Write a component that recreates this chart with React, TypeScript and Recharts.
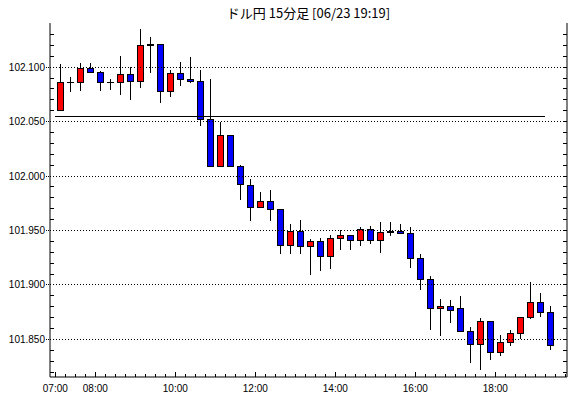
import React from 'react';
import { ComposedChart, Bar, XAxis, YAxis, ReferenceLine } from 'recharts';

const TITLE = 'ドル円 15分足 [06/23 19:19]';

const TIMES = [
  '07:00', '07:15', '07:30', '07:45', '08:00', '08:15', '08:30', '08:45',
  '09:00', '09:15', '09:30', '09:45', '10:00', '10:15', '10:30', '10:45',
  '11:00', '11:15', '11:30', '11:45', '12:00', '12:15', '12:30', '12:45',
  '13:00', '13:15', '13:30', '13:45', '14:00', '14:15', '14:30', '14:45',
  '15:00', '15:15', '15:30', '15:45', '16:00', '16:15', '16:30', '16:45',
  '17:00', '17:15', '17:30', '17:45', '18:00', '18:15', '18:30', '18:45',
  '19:00', '19:15',
];

const OPEN = [
  102.060, 102.086, 102.086, 102.099, 102.095, 102.086, 102.086, 102.093,
  102.087, 102.121, 102.121, 102.078, 102.094, 102.089, 102.087, 102.052,
  102.009, 102.037, 102.009, 101.991, 101.971, 101.977, 101.969, 101.936,
  101.949, 101.935, 101.940, 101.926, 101.943, 101.945, 101.941, 101.951,
  101.941, 101.949, 101.949, 101.947, 101.924, 101.905, 101.878, 101.880,
  101.878, 101.857, 101.845, 101.866, 101.838, 101.847, 101.855, 101.870,
  101.884, 101.875,
];

const HIGH = [
  102.103, 102.091, 102.104, 102.104, 102.096, 102.089, 102.110, 102.100,
  102.135, 102.128, 102.121, 102.097, 102.105, 102.109, 102.097, 102.089,
  102.050, 102.038, 102.010, 101.997, 101.985, 101.987, 101.970, 101.956,
  101.960, 101.942, 101.943, 101.946, 101.950, 101.945, 101.953, 101.954,
  101.958, 101.958, 101.956, 101.953, 101.928, 101.908, 101.887, 101.886,
  101.890, 101.861, 101.870, 101.866, 101.854, 101.859, 101.870, 101.903,
  101.893, 101.881,
];

const LOW = [
  102.060, 102.077, 102.078, 102.095, 102.078, 102.079, 102.074, 102.070,
  102.081, 102.095, 102.067, 102.073, 102.083, 102.085, 102.046, 102.008,
  102.008, 102.009, 101.978, 101.959, 101.971, 101.959, 101.928, 101.928,
  101.928, 101.909, 101.913, 101.915, 101.932, 101.932, 101.936, 101.938,
  101.929, 101.945, 101.947, 101.916, 101.895, 101.859, 101.853, 101.865,
  101.857, 101.828, 101.822, 101.831, 101.835, 101.844, 101.850, 101.869,
  101.871, 101.840,
];

const CLOSE = [
  102.086, 102.086, 102.099, 102.095, 102.086, 102.086, 102.093, 102.087,
  102.120, 102.120, 102.078, 102.094, 102.089, 102.087, 102.052, 102.009,
  102.037, 102.009, 101.992, 101.971, 101.977, 101.969, 101.936, 101.949,
  101.935, 101.940, 101.926, 101.943, 101.945, 101.941, 101.951, 101.941,
  101.948, 101.948, 101.947, 101.924, 101.905, 101.878, 101.880, 101.877,
  101.857, 101.845, 101.866, 101.838, 101.847, 101.855, 101.870, 101.884,
  101.875, 101.844,
];

const PRICE_LABELS = [101.85, 101.9, 101.95, 102.0, 102.05, 102.1];
const PRICE_MINOR = [
  101.82, 101.83, 101.84, 101.86, 101.87, 101.88, 101.89, 101.91, 101.92,
  101.93, 101.94, 101.96, 101.97, 101.98, 101.99, 102.01, 102.02, 102.03,
  102.04, 102.06, 102.07, 102.08, 102.09, 102.11, 102.12, 102.13,
];
const TIME_LABELS = ['07:00', '08:00', '10:00', '12:00', '14:00', '16:00', '18:00'];
const LONG_TICK_TIMES = ['08:00', '10:00', '12:00', '14:00', '16:00', '18:00'];
const CURRENT_PRICE = 102.055;
const LINE_START = '07:00';
const LINE_END = '19:15';
const Y_DOMAIN = [101.8155, 102.1405];
const X_DOMAIN = [-8, 767.5];

const toMinutes = (s: string) => {
  const [h, m] = s.split(':').map(Number);
  return (h - 7) * 60 + m;
};

const data = TIMES.map((t, i) => ({
  time: t,
  t: toMinutes(t) + 7.5,
  open: OPEN[i],
  high: HIGH[i],
  low: LOW[i],
  close: CLOSE[i],
}));

const TICK_MINUTES: number[] = [];
for (let m = 0; m <= X_DOMAIN[1]; m += 15) TICK_MINUTES.push(m);
const LABEL_MIN = TIME_LABELS.map(toMinutes);
const LONG_MIN = LONG_TICK_TIMES.map(toMinutes);
const fmt = (m: number) => {
  const h = 7 + Math.floor(m / 60);
  const mm = m % 60;
  return `${String(h).padStart(2, '0')}:${String(mm).padStart(2, '0')}`;
};

const FONT = '"Liberation Sans", Arial, sans-serif';

const Candle = (props: any) => {
  const { x, y, width, height, payload } = props;
  if (x == null || y == null || !payload) return null;
  const { open, close, high, low } = payload;
  const ratio = height / (high - low);
  const yOf = (v: number) => y + (high - v) * ratio;
  const cx = Math.round(x + width / 2) + 0.5;
  const half = 3;
  const top = yOf(Math.max(open, close));
  const bot = yOf(Math.min(open, close));
  const up = close > open;
  const flat = close === open;
  return (
    <g shapeRendering="crispEdges">
      <line x1={cx} x2={cx} y1={yOf(high)} y2={yOf(low)} stroke="#000" strokeWidth={1} />
      {flat ? (
        <line x1={cx - half - 0.5} x2={cx + half + 0.5} y1={top} y2={top} stroke="#000" strokeWidth={1} />
      ) : (
        <rect
          x={cx - half}
          y={top}
          width={half * 2}
          height={Math.max(bot - top, 0.5)}
          fill={up ? '#ff0000' : '#0000ff'}
          stroke="#000"
          strokeWidth={1}
        />
      )}
    </g>
  );
};

const BottomTick = (props: any) => {
  const { x, y, payload } = props;
  const v = payload.value;
  const labeled = LABEL_MIN.includes(v);
  const long = LONG_MIN.includes(v) || labeled;
  return (
    <g>
      <line x1={x} x2={x} y1={y} y2={y - (long ? 5 : 3)} stroke="#000" shapeRendering="crispEdges" />
      {labeled && (
        <text x={x} y={y + 15} textAnchor="middle" fontSize={10} fontFamily={FONT} fill="#000">
          {fmt(v)}
        </text>
      )}
    </g>
  );
};

const TopTick = (props: any) => {
  const { x, y, payload } = props;
  const v = payload.value;
  const long = LONG_MIN.includes(v);
  return <line x1={x} x2={x} y1={y} y2={y + (long ? 5 : 3)} stroke="#000" shapeRendering="crispEdges" />;
};

const isMajor = (v: number) => PRICE_LABELS.some((p) => Math.abs(p - v) < 1e-6);

const LeftTick = (props: any) => {
  const { x, y, payload } = props;
  const v = payload.value;
  if (isMajor(v)) {
    return (
      <g>
        <line x1={x - 4} x2={x} y1={y} y2={y} stroke="#000" strokeDasharray="1 1" shapeRendering="crispEdges" />
        <text x={x - 5} y={y + 3.5} textAnchor="end" fontSize={10} fontFamily={FONT} fill="#000">
          {v.toFixed(3)}
        </text>
      </g>
    );
  }
  return <line x1={x} x2={x + 4} y1={y} y2={y} stroke="#000" shapeRendering="crispEdges" />;
};

const RightTick = (props: any) => {
  const { x, y } = props;
  return <line x1={x - 4} x2={x} y1={y} y2={y} stroke="#000" shapeRendering="crispEdges" />;
};

const Y_TICKS = [...PRICE_MINOR, ...PRICE_LABELS].sort((a, b) => a - b);

export default function App() {
  return (
    <div style={{ position: 'absolute', left: 0, top: 0, width: 570, height: 398, background: '#fff' }}>
      <div
        style={{
          position: 'absolute',
          left: 50,
          width: 517,
          top: 5,
          textAlign: 'center',
          fontSize: 13,
          lineHeight: '15px',
          fontFamily: '"Noto Sans CJK JP", sans-serif',
          color: '#000',
        }}
      >
        {TITLE}
      </div>
      <ComposedChart
        width={570}
        height={398}
        data={data}
        margin={{ top: 23, right: 0, bottom: 0, left: 0 }}
      >
        <XAxis
          dataKey="t"
          type="number"
          domain={X_DOMAIN}
          allowDataOverflow
          ticks={TICK_MINUTES}
          interval={0}
          tickSize={0}
          tickMargin={0}
          tickLine={false}
          tick={<BottomTick />}
          height={21}
          axisLine={{ stroke: '#000' }}
        />
        <XAxis
          xAxisId="top"
          orientation="top"
          dataKey="t"
          type="number"
          domain={X_DOMAIN}
          allowDataOverflow
          ticks={TICK_MINUTES}
          interval={0}
          tickSize={0}
          tickMargin={0}
          tickLine={false}
          tick={<TopTick />}
          height={0}
          axisLine={{ stroke: '#000' }}
        />
        <YAxis
          type="number"
          domain={Y_DOMAIN}
          allowDataOverflow
          ticks={Y_TICKS}
          interval={0}
          tickSize={0}
          tickMargin={0}
          tickLine={false}
          tick={<LeftTick />}
          width={50}
          axisLine={{ stroke: '#000' }}
        />
        <YAxis
          yAxisId="right"
          orientation="right"
          type="number"
          domain={Y_DOMAIN}
          allowDataOverflow
          ticks={Y_TICKS}
          interval={0}
          tickSize={0}
          tickMargin={0}
          tickLine={false}
          tick={<RightTick />}
          width={3}
          axisLine={{ stroke: '#000' }}
        />
        {PRICE_LABELS.map((p) => (
          <ReferenceLine key={p} y={p} stroke="#000" strokeDasharray="1 2" shapeRendering="crispEdges" />
        ))}
        <ReferenceLine
          segment={[
            { x: toMinutes(LINE_START), y: CURRENT_PRICE },
            { x: toMinutes(LINE_END), y: CURRENT_PRICE },
          ]}
          stroke="#000"
          strokeWidth={1}
          shapeRendering="crispEdges"
        />
        <Bar
          dataKey={(d: any) => [d.low, d.high]}
          barSize={7}
          shape={<Candle />}
          isAnimationActive={false}
        />
      </ComposedChart>
    </div>
  );
}
